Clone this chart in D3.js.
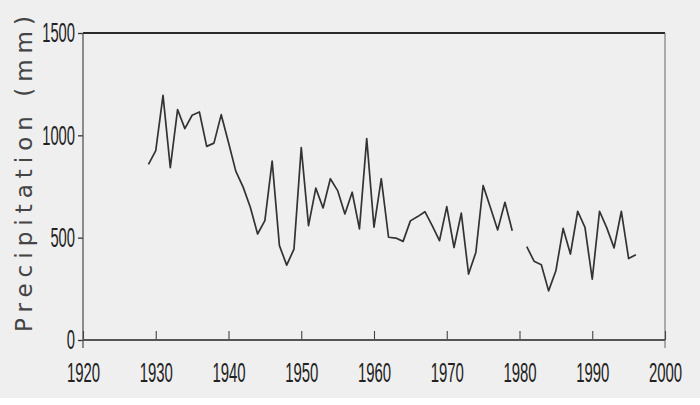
<!DOCTYPE html>
<html>
<head>
<meta charset="utf-8">
<script src="https://cdn.jsdelivr.net/npm/d3@7"></script>
<style>
  html, body { margin: 0; padding: 0; background: #ffffff; }
  svg { display: block; }
</style>
</head>
<body>
<svg id="chart" width="700" height="405"></svg>
<script>
// ---- data ----
const years = [1929,1930,1931,1932,1933,1934,1935,1936,1937,1938,1939,
  1940,1941,1942,1943,1944,1945,1946,1947,1948,1949,
  1950,1951,1952,1953,1954,1955,1956,1957,1958,1959,
  1960,1961,1962,1963,1964,1965,1966,1967,1968,1969,
  1970,1971,1972,1973,1974,1975,1976,1977,1978,1979,
  1980,1981,1982,1983,1984,1985,1986,1987,1988,1989,
  1990,1991,1992,1993,1994,1995,1996];
const precipitation = [858,925,1195,842,1126,1033,1098,1114,946,962,1101,
  965,825,748,649,518,583,874,461,366,444,
  940,559,742,645,788,730,616,722,543,984,
  551,788,502,498,482,582,603,627,559,485,
  652,452,620,322,428,755,647,538,673,534,
  null,456,385,368,240,338,545,420,629,550,
  297,629,548,450,629,398,417];
const xTicks = [1920,1930,1940,1950,1960,1970,1980,1990,2000];
const yTicks = [0,500,1000,1500];
const yLabel = "Precipitation  (mm)";

// ---- layout ----
const svg = d3.select("#chart");
const W = 700, H = 405;
const mLeft = 83, mRight = 665, mTop = 33, mBottom = 340;

svg.append("rect").attr("x",0).attr("y",0).attr("width",W).attr("height",398).attr("fill","#efefef");

const x = d3.scaleLinear().domain([1920,2000]).range([mLeft,mRight]);
const y = d3.scaleLinear().domain([0,1500]).range([mBottom,mTop]);

const numFont = "'Liberation Sans',Arial,sans-serif";

// frame: top and right
svg.append("line").attr("x1",mLeft).attr("x2",mRight).attr("y1",mTop).attr("y2",mTop)
  .attr("stroke","#2a2a2a").attr("stroke-width",2.2);
svg.append("line").attr("x1",mRight).attr("x2",mRight).attr("y1",mTop).attr("y2",mBottom+8)
  .attr("stroke","#666").attr("stroke-width",1);

// y axis
const yAxis = d3.axisLeft(y).tickValues(yTicks).tickSize(5).tickPadding(3).tickFormat(d3.format("d"));
const gy = svg.append("g").attr("transform",`translate(${mLeft},0)`).call(yAxis);
gy.select(".domain").remove();
gy.selectAll(".tick line").attr("stroke","#333").attr("stroke-width",1.3);
gy.selectAll(".tick text")
  .attr("font-family",numFont).attr("font-size",28).attr("fill","#222")
  .attr("textLength",d => String(d).length*8.2).attr("lengthAdjust","spacingAndGlyphs");
svg.append("line").attr("x1",mLeft).attr("x2",mLeft).attr("y1",mTop).attr("y2",mBottom+8)
  .attr("stroke","#555").attr("stroke-width",1.3);

// x axis (ticks inward)
const xAxis = d3.axisBottom(x).tickValues(xTicks).tickSize(-9).tickPadding(22).tickFormat(d3.format("d"));
const gx = svg.append("g").attr("transform",`translate(0,${mBottom})`).call(xAxis);
gx.select(".domain").remove();
gx.selectAll(".tick line").attr("stroke","#444").attr("stroke-width",1.1);
gx.selectAll(".tick text")
  .attr("font-family",numFont).attr("font-size",28).attr("fill","#222")
  .attr("textLength",d => String(d).length*8.3).attr("lengthAdjust","spacingAndGlyphs");
svg.append("line").attr("x1",mLeft).attr("x2",mRight).attr("y1",mBottom).attr("y2",mBottom)
  .attr("stroke","#555").attr("stroke-width",2);

// y label
svg.append("text")
  .attr("transform",`translate(32,${(15+333)/2}) rotate(-90)`)
  .attr("text-anchor","middle")
  .attr("font-family","'DejaVu Sans',Verdana,sans-serif")
  .attr("font-size",23).attr("fill","#444")
  .attr("textLength",316).attr("lengthAdjust","spacing")
  .text(yLabel);

// line
const data = years.map((yr,i) => ({year: yr, value: precipitation[i]}));
const line = d3.line()
  .defined(d => d.value !== null)
  .x(d => x(d.year))
  .y(d => y(d.value));
svg.append("path").datum(data)
  .attr("d",line).attr("fill","none")
  .attr("stroke","#333").attr("stroke-width",1.7).attr("stroke-linejoin","round");
</script>
</body>
</html>
